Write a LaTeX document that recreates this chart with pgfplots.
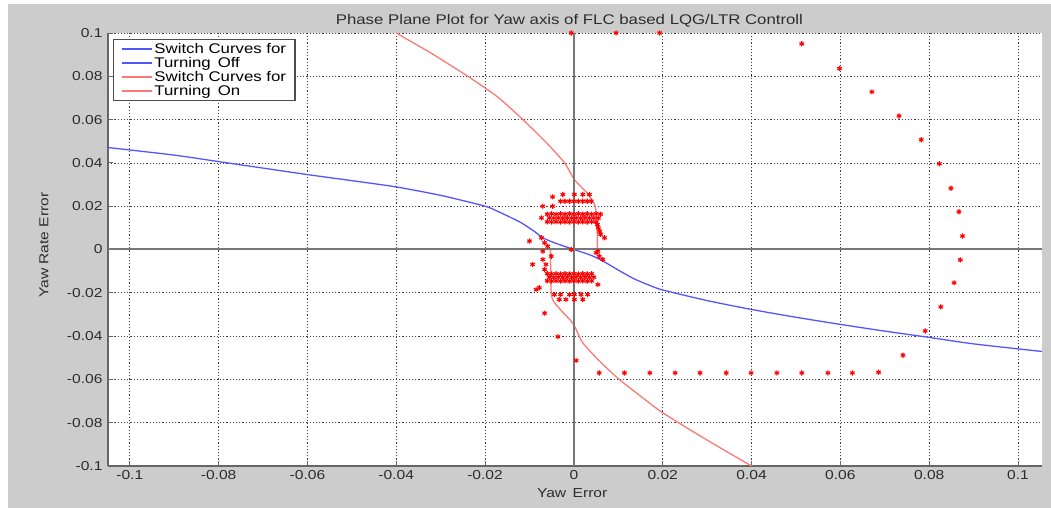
\documentclass[border=0pt]{standalone}
\usepackage{pgfplots}
\pgfplotsset{compat=1.18}
\usepackage{fontspec}
\setmainfont{Liberation Sans}[FakeStretch=1.2]
\definecolor{figgray}{RGB}{204,204,204}
\definecolor{txt}{RGB}{45,45,45}
\definecolor{offblue}{RGB}{85,85,255}
\definecolor{onred}{RGB}{255,120,120}
\definecolor{axgray}{RGB}{120,120,120}
\begin{document}
\begin{tikzpicture}[x=1pt,y=1pt]
\fill[white] (0,0) rectangle (1051,508);
\fill[figgray] (8,0) rectangle (1051,504);
\begin{axis}[
  at={(108pt,42pt)}, anchor=south west,
  scale only axis, width=934pt, height=433pt,
  xmin=-0.1049, xmax=0.1054, ymin=-0.1, ymax=0.1,
  axis background/.style={fill=white},
  axis x line*=bottom, axis y line*=left,
  axis line style={draw=black!60, line width=1.1pt, -},
  xtick={-0.1,-0.08,-0.06,-0.04,-0.02,0,0.02,0.04,0.06,0.08,0.1},
  ytick={-0.1,-0.08,-0.06,-0.04,-0.02,0,0.02,0.04,0.06,0.08,0.1},
  xticklabels={-0.1,-0.08,-0.06,-0.04,-0.02,0,0.02,0.04,0.06,0.08,0.1},
  yticklabels={-0.1,-0.08,-0.06,-0.04,-0.02,0,0.02,0.04,0.06,0.08,0.1},
  tick align=inside, major tick length=5pt,
  tick style={draw=black!60, line width=0.8pt},
  ticklabel style={font=\fontsize{13}{15}\selectfont, text=txt},
  xticklabel style={yshift=-1pt},
  yticklabel style={xshift=-2pt},
  grid=major,
  grid style={draw=black!75, line width=0.7pt, dash pattern=on 1.2pt off 2pt},
  title={Phase Plane Plot for Yaw axis of FLC based LQG/LTR Controll},
  title style={font=\fontsize{14}{16}\selectfont, text=txt, at={(axis description cs:0.494,1)}, anchor=center, yshift=6pt},
  xlabel={Yaw\hspace{0.5em}Error},
  xlabel style={font=\fontsize{13}{15}\selectfont, text=txt, at={(axis description cs:0.497,0)}, anchor=center, yshift=-27pt},
  ylabel={Yaw Rate Error},
  ylabel style={font=\fontsize{13}{15}\selectfont, text=txt, at={(axis description cs:-0.0685,0.51)}, anchor=center},
  legend style={at={(axis description cs:0.0054,0.986)}, anchor=north west,
    font=\fontsize{14}{15}\selectfont, draw=black!70, very thick,
    fill=white, inner xsep=7pt, inner ysep=2.5pt, row sep=0pt,
    nodes={inner ysep=1.2pt},
    /tikz/every even column/.append style={column sep=10pt}},
  legend cell align=left,
]
% switch curves, turning off (blue)
\addplot[draw=offblue, line width=1.3pt, smooth, tension=0.4,
  legend image code/.code={\draw[draw=offblue, line width=1.8pt] (0pt,0pt) -- (30pt,0pt);}] coordinates {
(-0.1049,0.0471) (-0.09,0.0436) (-0.08,0.0406) (-0.07,0.0376) (-0.06,0.0346)
(-0.05,0.0318) (-0.04,0.0289) (-0.03,0.0250) (-0.02,0.0200) (-0.0166,0.0171)
(-0.012,0.0125) (-0.009,0.0085) (-0.007,0.0054) (-0.004,0.0028) (0,0)};
\addlegendentry{Switch Curves for}
\addplot[draw=offblue, line width=1.3pt, smooth, tension=0.4,
  legend image code/.code={\draw[draw=offblue, line width=1.8pt] (0pt,0pt) -- (30pt,0pt);}] coordinates {
(0,0) (0.004,-0.0028) (0.0066,-0.0054) (0.01,-0.0095) (0.0135,-0.0135) (0.0172,-0.0167)
(0.02,-0.0187) (0.03,-0.0236) (0.04,-0.0277) (0.05,-0.0313) (0.06,-0.0346)
(0.07,-0.0377) (0.08,-0.0406) (0.09,-0.0436) (0.1054,-0.0471)};
\addlegendentry{Turning\hspace{0.5em}Off}
% switch curves, turning on (red)
\addplot[draw=onred, line width=1.3pt, smooth, tension=0.4,
  legend image code/.code={\draw[draw=onred, line width=1.8pt] (0pt,0pt) -- (30pt,0pt);}] coordinates {
(-0.04,0.1) (-0.032,0.0905) (-0.0239,0.080) (-0.0172,0.0705)
(-0.0115,0.060) (-0.0065,0.050) (-0.0021,0.040) (0.0001,0.0323) (0.003,0.026)
(0.0048,0.020) (0.0052,0.010) (0.0053,0)};
\addlegendentry{Switch Curves for}
\addplot[draw=onred, line width=1.3pt, smooth, tension=0.4,
  legend image code/.code={\draw[draw=onred, line width=1.8pt] (0pt,0pt) -- (30pt,0pt);}] coordinates {
(-0.0053,0) (-0.0052,-0.010) (-0.0048,-0.0231) (-0.0003,-0.0339) (0.002,-0.0431)
(0.006,-0.052) (0.0102,-0.060) (0.0155,-0.0685) (0.020,-0.0754)
(0.0298,-0.0878) (0.040,-0.1)};
\addlegendentry{Turning\hspace{0.5em}On}
% trajectory
\addplot[only marks, mark=asterisk, mark size=2.6pt, red, line width=1.1pt, forget plot] coordinates {
(0.0193,0.1) (0.0095,0.1) (-0.0006,0.1)
(0.0513,0.095) (0.0598,0.0836) (0.0671,0.0728) (0.0732,0.0617) (0.0782,0.0507)
(0.0823,0.0396) (0.0849,0.0283) (0.0867,0.0174) (0.0875,0.0062) (0.0870,-0.0048)
(0.0856,-0.0154) (0.0826,-0.0265) (0.0791,-0.0376) (0.0741,-0.0488) (0.0686,-0.0567)
(0.0627,-0.057) (0.0572,-0.057) (0.0513,-0.057) (0.0457,-0.057) (0.0399,-0.057)
(0.0343,-0.057) (0.0284,-0.057) (0.0228,-0.057) (0.0171,-0.057) (0.0114,-0.057)
(0.0057,-0.057)
(0.0005,-0.0513) (-0.0036,-0.0403) (-0.0066,-0.0294)
(-0.0025,0.0254) (0.0001,0.0254) (0.002,0.0254) (0.0035,0.0254) (-0.0048,0.0243)
(-0.003,0.0223) (-0.002,0.0223) (-0.001,0.0223) (0,0.0223) (0.001,0.0223)
(0.002,0.0223) (0.003,0.0223) (0.0039,0.0223)
(-0.007,0.020) (-0.0048,0.020)
(-0.006,0.0163) (-0.005,0.0165) (-0.004,0.0163) (-0.003,0.0165) (-0.002,0.0163)
(-0.001,0.0165) (0,0.0163) (0.001,0.0165) (0.002,0.0163) (0.003,0.0165)
(0.004,0.0163) (0.005,0.0165) (0.006,0.0163)
(-0.0055,0.0146) (-0.0045,0.0145) (-0.0035,0.0146) (-0.0025,0.0145) (-0.0015,0.0146)
(-0.0005,0.0145) (0.0005,0.0146) (0.0015,0.0145) (0.0025,0.0146) (0.0035,0.0145)
(0.0045,0.0146) (0.0055,0.0145)
(-0.006,0.0128) (-0.005,0.0127) (-0.004,0.0128) (-0.003,0.0127) (-0.002,0.0128)
(-0.001,0.0127) (0,0.0128) (0.001,0.0127) (0.002,0.0128) (0.003,0.0127)
(0.004,0.0128) (0.005,0.0127)
(0.0053,0.0115) (0.0055,0.010) (0.0058,0.0085) (0.006,0.007) (0.0069,0.0054)
(0.005,-0.0015) (0.0054,-0.0008) (0.0057,-0.0031) (0.0065,-0.0046)
(-0.0073,0.0146) (-0.010,0.0039) (-0.0073,0.0054) (-0.0066,0.0031) (-0.0059,0.0015)
(-0.007,-0.0008) (-0.0051,-0.0031) (-0.007,-0.0046) (-0.0063,-0.0069) (-0.0093,-0.0069)
(-0.0066,-0.0092)
(-0.0006,0)
(-0.006,-0.0112) (-0.005,-0.0113) (-0.004,-0.0112) (-0.003,-0.0113) (-0.002,-0.0112)
(-0.001,-0.0113) (0,-0.0112) (0.001,-0.0113) (0.002,-0.0112) (0.003,-0.0113) (0.004,-0.0112)
(-0.0055,-0.0128) (-0.0045,-0.0129) (-0.0035,-0.0128) (-0.0025,-0.0129) (-0.0015,-0.0128)
(-0.0005,-0.0129) (0.0005,-0.0128) (0.0015,-0.0129) (0.0025,-0.0128) (0.0035,-0.0129) (0.0045,-0.0128)
(-0.006,-0.0145) (-0.005,-0.0146) (-0.004,-0.0145) (-0.003,-0.0146) (-0.002,-0.0145)
(-0.001,-0.0146) (0,-0.0145) (0.001,-0.0146) (0.002,-0.0145) (0.003,-0.0146) (0.004,-0.0145)
(-0.0085,-0.0185) (-0.0078,-0.0177) (0.0054,-0.0162)
(-0.0044,-0.0208) (-0.003,-0.0208) (-0.001,-0.0208) (0.0001,-0.0208) (0.0016,-0.0208) (0.0031,-0.0208)
(-0.0033,-0.0231) (-0.0018,-0.0231) (0.0001,-0.0231) (0.002,-0.0231)
};
% zero lines
\addplot[axgray, line width=2pt, forget plot] coordinates {(0,-0.1) (0,0.1)};
\addplot[axgray, line width=2pt, forget plot] coordinates {(-0.1049,0) (0.1054,0)};
\end{axis}
\pgfresetboundingbox
\path[use as bounding box] (0,0) rectangle (1051,508);
\end{tikzpicture}
\end{document}
